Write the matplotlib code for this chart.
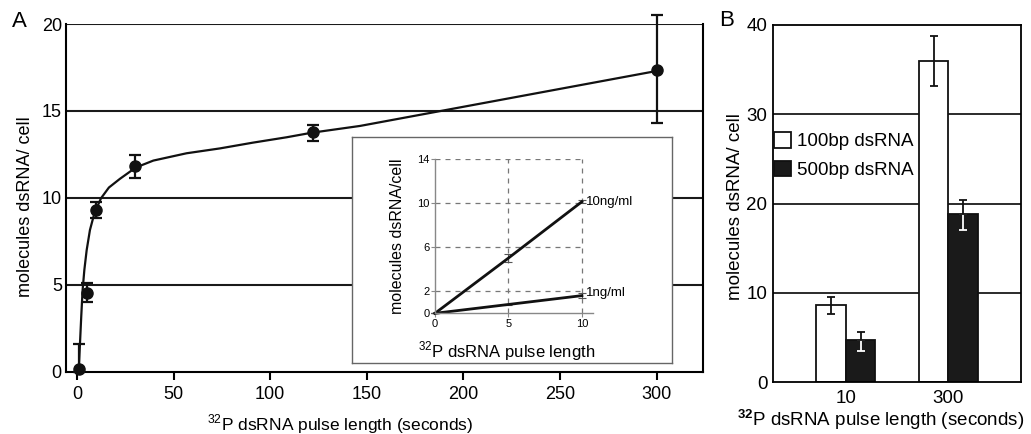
import numpy as np
import matplotlib
matplotlib.use("Agg")
import matplotlib.pyplot as plt
from matplotlib.patches import Patch

plt.rcParams['font.family'] = ['Liberation Sans', 'DejaVu Sans']
plt.rcParams['mathtext.fontset'] = 'custom'
plt.rcParams['mathtext.rm'] = 'Liberation Sans'
plt.rcParams['mathtext.bf'] = 'Liberation Sans:bold'

# Panel A: uptake time course (points + fitted curve)
pulse_s = [1, 5, 10, 30, 122, 300]
molecules = [0.2, 4.56, 9.31, 11.84, 13.77, 17.36]
err_low = [0.2, 0.52, 0.48, 0.71, 0.47, 3.06]
err_high = [1.39, 0.54, 0.44, 0.63, 0.43, 3.14]

fit_x = [0.9, 1.55, 2.2, 2.9, 3.8, 5.0, 6.7, 9.0, 12.4, 16.5, 22.2, 30.4,
         39.5, 56.7, 74, 91, 108.5, 121.4, 146.4, 300]
fit_y = [0.1, 1.65, 3.2, 4.7, 5.86, 7.0, 8.16, 9.12, 9.98, 10.6, 11.1, 11.75,
         12.15, 12.57, 12.85, 13.18, 13.49, 13.75, 14.14, 17.3]

# Inset: short pulses at two concentrations
inset_x = [0, 5, 10]
inset_10ng = [0, 5.0, 10.1]
inset_10ng_err = [0, 0.36, 0.15]
inset_1ng = [0, 0.8, 1.6]
inset_1ng_err = [0, 0.05, 0.22]
inset_yticks = [0, 2, 6, 10, 14]
inset_xticks = [0, 5, 10]

# Panel B: 100bp vs 500bp dsRNA
b_labels = ['10', '300']
b_100bp = [8.58, 36.0]
b_100bp_err = [0.97, 2.8]
b_500bp = [4.66, 18.8]
b_500bp_lo = [1.23, 1.8]
b_500bp_hi = [0.94, 1.6]

fig = plt.figure(figsize=(10.31, 4.34), dpi=100)

# ---- panel A ----
ax = fig.add_axes([0.0640, 0.1429, 0.6179, 0.8018])
ax.set_xlim(-5.7, 324)
ax.set_ylim(0, 20)
for yv in [5, 10, 15, 20]:
    ax.axhline(yv, color='#1a1a1a', lw=1.5, zorder=1)
ax.plot(fit_x, fit_y, color='#111111', lw=1.6, zorder=3)
ax.errorbar(pulse_s, molecules, yerr=[err_low, err_high], fmt='o', color='#111111',
            ms=8, elinewidth=1.6, capsize=4.5, capthick=1.6, zorder=4, clip_on=False)
for s in ['left', 'right', 'bottom']:
    ax.spines[s].set_linewidth(1.5)
ax.spines['top'].set_visible(False)
ax.set_xticks([0, 50, 100, 150, 200, 250, 300])
ax.set_yticks([0, 5, 10, 15, 20])
ax.tick_params(axis='y', length=0, pad=3, labelsize=13)
ax.tick_params(axis='x', direction='out', length=6, width=1.5, pad=4, labelsize=13)
ax.set_xlabel('$^{32}$P dsRNA pulse length (seconds)', fontsize=12.5)
ax.xaxis.set_label_coords(0.43, -0.115)
fig.text(0.025, 0.525, 'molecules dsRNA/ cell', rotation=90, fontsize=13,
         ha='center', va='center')
fig.text(0.019, 0.95, 'A', fontsize=16, ha='center', va='center')

# ---- inset ----
box = fig.add_axes([0.3414, 0.1636, 0.3104, 0.5207])
box.set_xticks([])
box.set_yticks([])
for s in box.spines.values():
    s.set_color('#666666')
    s.set_linewidth(1.0)

ins = fig.add_axes([0.4219, 0.2781, 0.1532, 0.3565])
ins.patch.set_alpha(0)
ins.set_xlim(0, 10.75)
ins.set_ylim(0, 14)
ins.hlines(inset_yticks[1:], 0, 10, colors='#777777', linestyles=(0, (4, 4)), lw=0.9)
ins.vlines(inset_xticks[1:], 0, 14, colors='#777777', linestyles=(0, (4, 4)), lw=0.9)
ins.errorbar(inset_x, inset_10ng, yerr=inset_10ng_err, color='#111111', lw=2,
             ecolor='#555555', elinewidth=0.8, capsize=3, capthick=0.8, clip_on=False)
ins.errorbar(inset_x, inset_1ng, yerr=inset_1ng_err, color='#111111', lw=2,
             ecolor='#555555', elinewidth=0.8, capsize=3, capthick=0.8, clip_on=False)
ins.text(10.3, inset_10ng[-1], '10ng/ml', fontsize=9.5, va='center', ha='left')
ins.text(10.3, inset_1ng[-1] + 0.2, '1ng/ml', fontsize=9.5, va='center', ha='left')
ins.spines['top'].set_visible(False)
ins.spines['right'].set_visible(False)
for s in ['left', 'bottom']:
    ins.spines[s].set_color('#888888')
    ins.spines[s].set_linewidth(1.0)
ins.set_xticks(inset_xticks)
ins.set_yticks(inset_yticks)
ins.tick_params(axis='both', length=3, width=0.8, color='#888888', labelsize=8, pad=1)
ins.set_ylabel('molecules dsRNA/cell', fontsize=11.5)
ins.yaxis.set_label_coords(-0.19, 0.495)
ins.set_xlabel('$^{32}$P dsRNA pulse length', fontsize=12)
ins.xaxis.set_label_coords(0.454, -0.17)

# ---- panel B ----
bx = fig.add_axes([0.7498, 0.1198, 0.2405, 0.8226])
pos = np.arange(len(b_labels))
w = 0.288
bx.set_xlim(-0.709, 1.709)
bx.set_ylim(0, 40)
for yv in [10, 20, 30]:
    bx.axhline(yv, color='#1a1a1a', lw=1.3, zorder=1)
bx.bar(pos - w / 2, b_100bp, w, color='white', edgecolor='#111111', lw=1.3, zorder=2)
bx.bar(pos + w / 2, b_500bp, w, color='#1a1a1a', edgecolor='#111111', lw=1.3, zorder=2)
bx.errorbar(pos - w / 2, b_100bp, yerr=b_100bp_err, fmt='none', ecolor='#111111',
            elinewidth=1.3, capsize=3, capthick=1.3, zorder=3)
bx.errorbar(pos + w / 2, b_500bp, yerr=[b_500bp_lo, [0] * len(b_500bp)], fmt='none',
            ecolor='white', elinewidth=1.3, capsize=3, capthick=1.3, zorder=3)
bx.errorbar(pos + w / 2, b_500bp, yerr=[[0] * len(b_500bp), b_500bp_hi], fmt='none',
            ecolor='#111111', elinewidth=1.3, capsize=3, capthick=1.3, zorder=4)
for s in bx.spines.values():
    s.set_linewidth(1.3)
bx.set_xticks(pos)
bx.set_xticklabels(b_labels)
bx.set_yticks([0, 10, 20, 30, 40])
bx.tick_params(axis='both', length=0, labelsize=13.5)
bx.tick_params(axis='x', pad=6)
bx.tick_params(axis='y', pad=4)
handles = [Patch(facecolor='white', edgecolor='#111111', lw=1.3),
           Patch(facecolor='#1a1a1a', edgecolor='#111111', lw=1.3)]
bx.legend(handles, ['100bp dsRNA', '500bp dsRNA'], loc='upper left',
          bbox_to_anchor=(0.004, 0.70), frameon=False, fontsize=13.5,
          handlelength=0.9, handleheight=0.9, handletextpad=0.3,
          labelspacing=0.55, borderpad=0, borderaxespad=0)
fig.text(0.713, 0.525, 'molecules dsRNA/ cell', rotation=90, fontsize=13.5,
         ha='center', va='center')
fig.text(0.854, 0.034, r'$^{\mathbf{32}}$P dsRNA pulse length (seconds)', fontsize=13.5,
         ha='center', va='center')
fig.text(0.705, 0.952, 'B', fontsize=16, ha='center', va='center')

fig.savefig('out.png', dpi=100)
